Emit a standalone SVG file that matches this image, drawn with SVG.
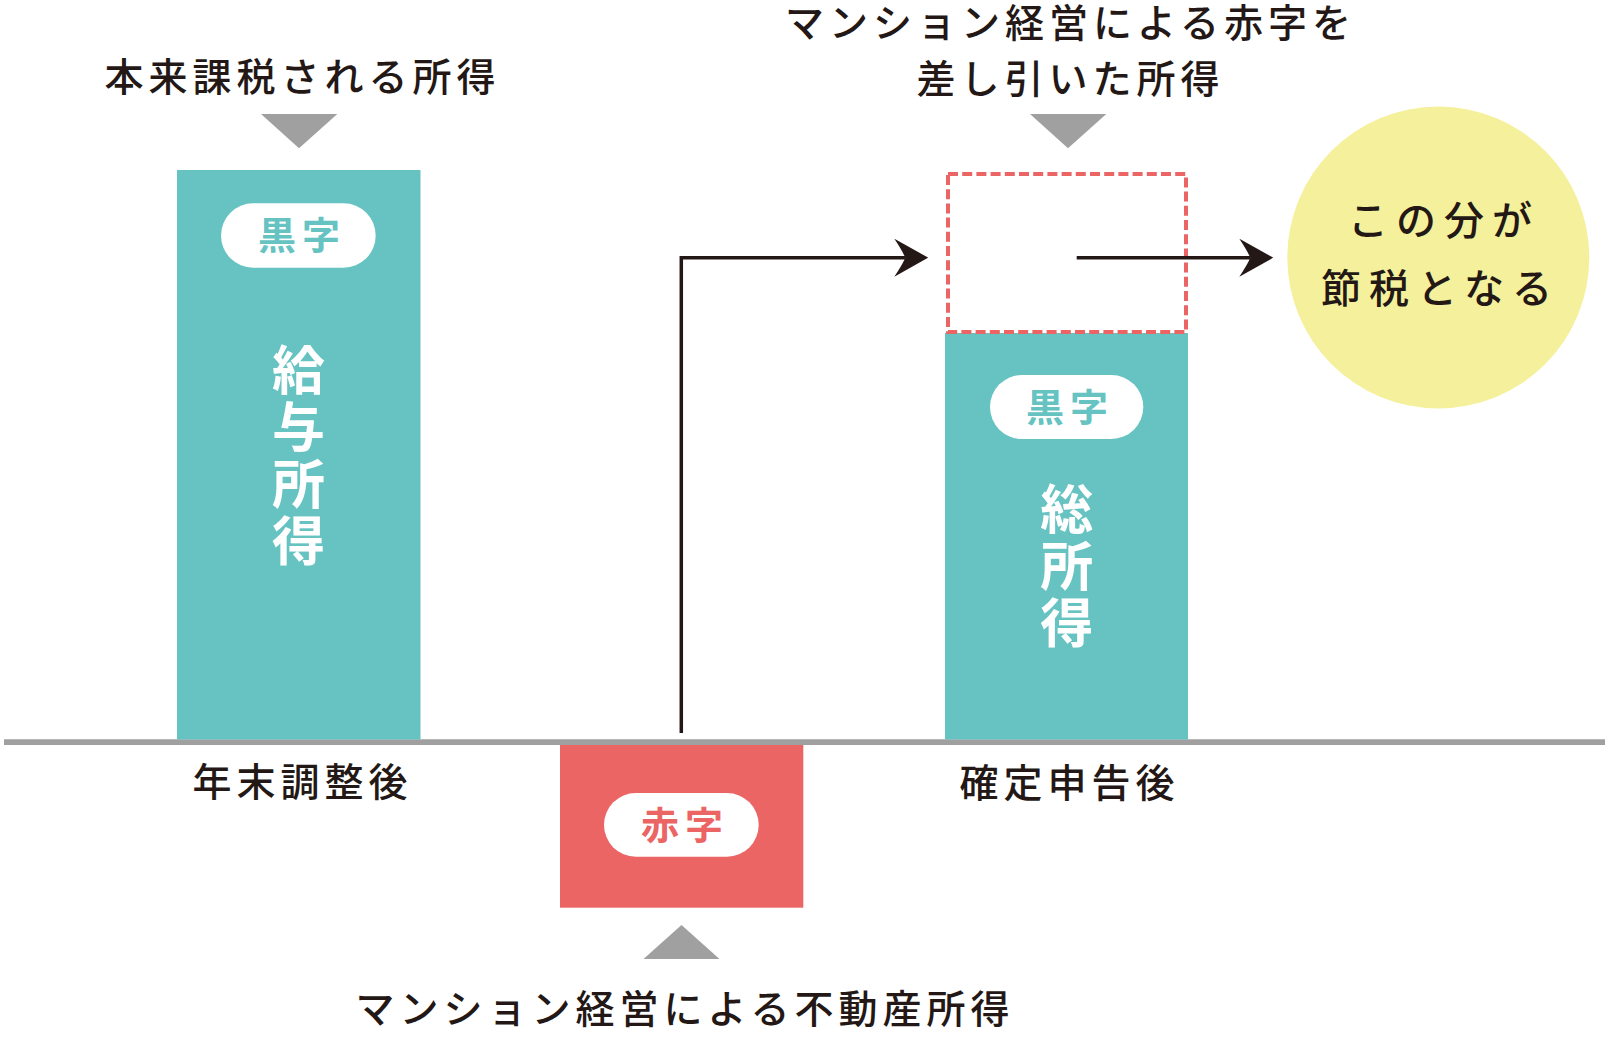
<svg xmlns="http://www.w3.org/2000/svg" width="1608" height="1039" viewBox="0 0 1608 1039">
<style>
.t{font-family:"Noto Sans CJK JP","Noto Sans",sans-serif;fill:#231815;font-size:39px;font-weight:500;letter-spacing:5px;text-anchor:middle}
.c{font-family:"Noto Sans CJK JP","Noto Sans",sans-serif;fill:#231815;font-size:40px;font-weight:500;letter-spacing:8px;text-anchor:middle}
.v{font-family:"Noto Sans CJK JP","Noto Sans",sans-serif;fill:#ffffff;font-size:53px;font-weight:700;text-anchor:middle}
.p{font-family:"Noto Sans CJK JP","Noto Sans",sans-serif;font-size:38px;font-weight:700;letter-spacing:6px;text-anchor:middle}
.teal{fill:#66c3c2}
.red{fill:#eb6565}
.tri{fill:#a0a0a0}
.pill{fill:#ffffff}
.conn{fill:none;stroke:#231815;stroke-width:3.5}
</style>
<defs>
<marker id="arr" markerUnits="userSpaceOnUse" viewBox="0 0 34 38" refX="11" refY="19" markerWidth="34" markerHeight="38" orient="auto">
<path d="M34,19 L0,0 Q8,12 11,19 Q8,26 0,38 Z" fill="#231815"/>
</marker>
</defs>

<g id="baseline-axis">
<line x1="4" y1="742.2" x2="1605" y2="742.2" stroke="#a0a0a0" stroke-width="5.7"/>
</g>

<g id="left-title">
<text class="t" x="302.5" y="90.5">本来課税される所得</text>
<polygon class="tri" points="261,114 337.3,114 299,148.3"/>
</g>

<g id="left-bar">
<rect class="teal" x="177" y="170" width="243.5" height="569.5"/>
<rect class="pill" x="221" y="203.3" width="154.7" height="64.4" rx="32.2"/>
<text class="p teal" x="302" y="248.6">黒字</text>
<text class="v" x="298.5" y="390">給</text>
<text class="v" x="298.5" y="447">与</text>
<text class="v" x="298.5" y="504">所</text>
<text class="v" x="298.5" y="561">得</text>
<text class="t" x="302.5" y="795.5">年末調整後</text>
</g>

<g id="red-bar">
<rect class="red" x="560" y="745" width="243.3" height="162.7"/>
<rect class="pill" x="604" y="793" width="154.7" height="63.7" rx="31.8"/>
<text class="p red" x="685" y="838.6">赤字</text>
</g>

<g id="bottom-title">
<polygon class="tri" points="643.5,959 719.5,959 681.5,925"/>
<text class="t" x="685" y="1022.5">マンション経営による不動産所得</text>
</g>

<g id="right-title">
<text class="t" x="1070.5" y="37">マンション経営による赤字を</text>
<text class="t" x="1070.5" y="93.3">差し引いた所得</text>
<polygon class="tri" points="1030,114 1106.3,114 1068,148.3"/>
</g>

<g id="right-bar">
<rect class="teal" x="945" y="333" width="243" height="406.5"/>
<rect x="948" y="174" width="238" height="158" fill="none" stroke="#eb6565" stroke-width="4" stroke-dasharray="10 4.2"/>
<rect class="pill" x="990" y="375" width="153.3" height="64" rx="32"/>
<text class="p teal" x="1070" y="420.6">黒字</text>
<text class="v" x="1066.7" y="529.4">総</text>
<text class="v" x="1066.7" y="586.4">所</text>
<text class="v" x="1066.7" y="643">得</text>
<text class="t" x="1069.5" y="796.7">確定申告後</text>
</g>

<g id="savings-circle">
<circle cx="1438.3" cy="257.5" r="151" fill="#f5f09b"/>
<text class="c" x="1444" y="235.4">この分が</text>
<text class="c" x="1440.5" y="302.8">節税となる</text>
</g>

<g id="connectors">
<path class="conn" d="M681.3,733 V257.7 H905.3" marker-end="url(#arr)"/>
<path class="conn" d="M1076.7,257.7 H1250.3" marker-end="url(#arr)"/>
</g>
</svg>
